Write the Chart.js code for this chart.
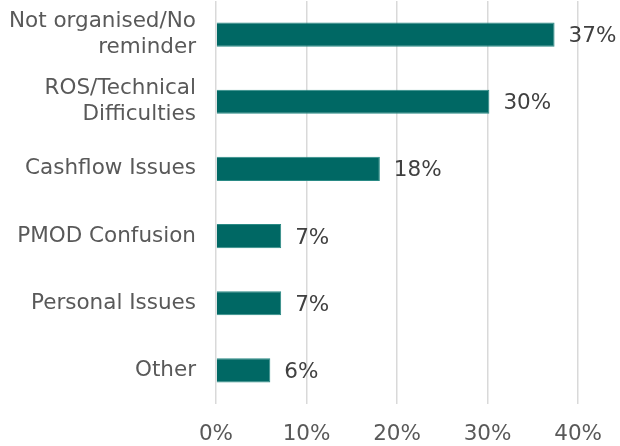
<!DOCTYPE html>
<html>
<head>
<meta charset="utf-8">
<script src="https://cdn.jsdelivr.net/npm/chart.js@4"></script>
<style>
  html, body { margin: 0; padding: 0; background: #ffffff; }
  #wrap { width: 620px; height: 446px; }
</style>
</head>
<body>
<div id="wrap"><canvas id="c" width="620" height="446"></canvas></div>
<script>
const categories = [
  ["Not organised/No", "reminder"],
  ["ROS/Technical", "Difficulties"],
  "Cashflow Issues",
  "PMOD Confusion",
  "Personal Issues",
  "Other"
];
const shares = [37.4, 30.2, 18.1, 7.2, 7.2, 6.0];
const xTicks = [0, 10, 20, 30, 40];

const FONT = "'DejaVu Sans', Verdana, sans-serif";
const FSIZE = 21.5;

const valueLabels = {
  id: 'valueLabels',
  afterDatasetsDraw(chart) {
    const ctx = chart.ctx;
    const meta = chart.getDatasetMeta(0);
    ctx.save();
    ctx.font = FSIZE + "px " + FONT;
    ctx.fillStyle = '#404040';
    ctx.textAlign = 'left';
    ctx.textBaseline = 'middle';
    meta.data.forEach((bar, i) => {
      ctx.fillText(Math.round(shares[i]) + '%', bar.x + 14, bar.y + 2);
    });
    ctx.restore();
  }
};

new Chart(document.getElementById('c'), {
  type: 'bar',
  data: {
    labels: categories,
    datasets: [{
      data: shares,
      backgroundColor: '#006864',
      borderColor: '#2a8a85',
      borderWidth: 1,
      barPercentage: 0.36,
      categoryPercentage: 1.0
    }]
  },
  options: {
    indexAxis: 'y',
    responsive: false,
    animation: false,
    devicePixelRatio: 1,
    layout: { padding: { left: 0, right: 41, top: 1, bottom: 0 } },
    plugins: { legend: { display: false }, tooltip: { enabled: false } },
    scales: {
      x: {
        min: 0, max: 40,
        afterBuildTicks(scale) { scale.ticks = xTicks.map(v => ({ value: v })); },
        afterFit(scale) { scale.height = 42; },
        grid: { color: '#d9d9d9', lineWidth: 1.5, drawTicks: false },
        border: { display: false },
        ticks: {
          padding: 18,
          color: '#595959',
          font: { family: FONT, size: FSIZE },
          callback: v => v + '%'
        }
      },
      y: {
        grid: { display: false, drawTicks: false },
        border: { display: false },
        afterFit(scale) { scale.paddingTop = 0; scale.paddingBottom = 0; scale.width = 216; },
        ticks: {
          padding: 20,
          color: '#595959',
          font: { family: FONT, size: FSIZE },
          autoSkip: false
        }
      }
    }
  },
  plugins: [valueLabels]
});
</script>
</body>
</html>
